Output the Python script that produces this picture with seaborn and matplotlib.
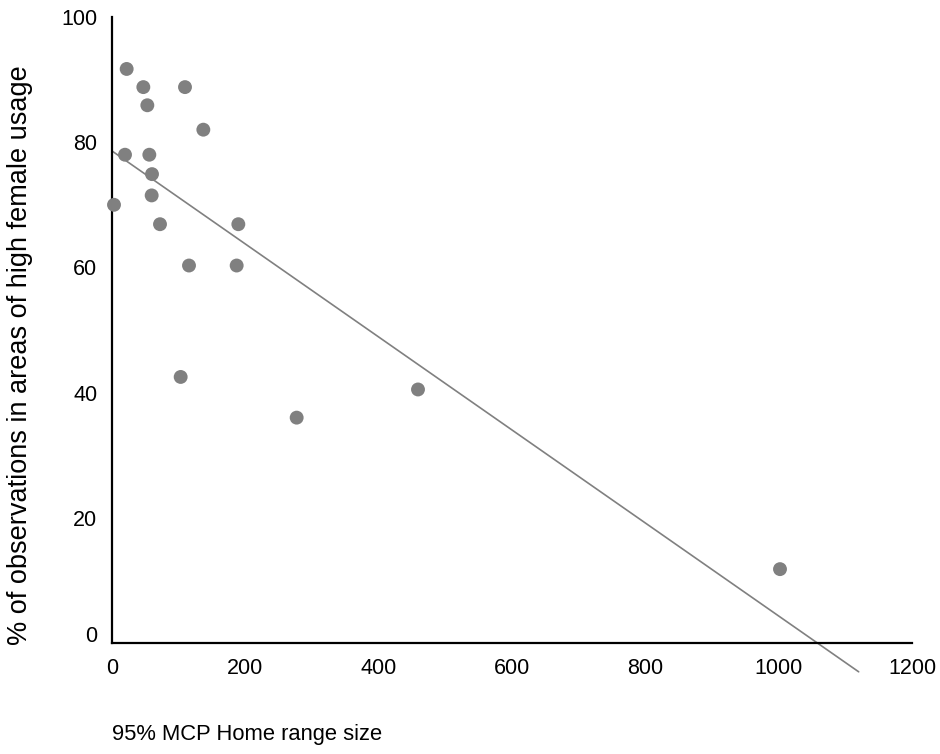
import numpy as np
import pandas as pd
import matplotlib
matplotlib.use("Agg")
import matplotlib.pyplot as plt
import matplotlib.transforms as mtransforms
import seaborn as sns

# Data
home_range = [3, 22, 19.5, 47, 53, 56, 60, 59.5, 72, 109.5, 137, 115.5, 103,
              187, 189.5, 277, 459, 1002]
pct_high_female = [70, 91.7, 78, 88.8, 85.9, 78, 74.9, 71.5, 66.9, 88.8, 82,
                   60.3, 42.5, 60.3, 66.9, 36, 40.5, 11.8]
trend_x = [0, 1120]
trend_y = [78.6, -4.6]
x_ticks = [0, 200, 400, 600, 800, 1000, 1200]
y_ticks = [0, 20, 40, 60, 80, 100]
x_label = "95% MCP Home range size"
y_label = "% of observations in areas of high female usage"

sns.set_style("white")
plt.rcParams['font.family'] = ['Liberation Sans', 'DejaVu Sans']

df = pd.DataFrame({"x": home_range, "y": pct_high_female})
trend = pd.DataFrame({"x": trend_x, "y": trend_y})

fig = plt.figure(figsize=(9.4, 7.54), dpi=100)
ax = fig.add_axes([112/940, 1 - 643/754, 800/940, 626/754])

sns.lineplot(data=trend, x="x", y="y", ax=ax, color="#808080", linewidth=1.2,
             clip_on=False, zorder=2)
sns.scatterplot(data=df, x="x", y="y", ax=ax, color="#808080", s=100,
                edgecolor="none", linewidth=0, clip_on=False, zorder=3)

ax.set_xlim(0, 1200)
ax.set_ylim(0, 100)
ax.set_xticks(x_ticks)
ax.set_yticks(y_ticks)
ax.set_xticklabels([str(t) for t in x_ticks])
ax.set_yticklabels([str(t) for t in y_ticks])

for side in ["top", "right"]:
    ax.spines[side].set_visible(False)
for side in ["left", "bottom"]:
    ax.spines[side].set_color("black")
    ax.spines[side].set_linewidth(1.6)

ax.tick_params(axis="y", direction="out", length=3.5, width=3, color="black",
               labelsize=15.5, pad=7, labelcolor="black")
ax.tick_params(axis="x", direction="out", length=2.5, width=4, color="black",
               labelsize=15.5, pad=8, labelcolor="black")

# the "0" label on the y axis sits slightly above its tick in the reference
lab0 = ax.get_yticklabels()[0]
lab0.set_transform(lab0.get_transform() +
                   mtransforms.ScaledTranslation(0, 9/100, fig.dpi_scale_trans))

ax.set_xlabel(x_label, fontsize=15.8, loc="left", color="black")
ax.xaxis.set_label_coords(0, -0.13)
ax.set_ylabel(y_label, fontsize=19.5, color="black")
ax.yaxis.set_label_coords(-0.099, 0.46)

fig.savefig("out.png", dpi=100)
